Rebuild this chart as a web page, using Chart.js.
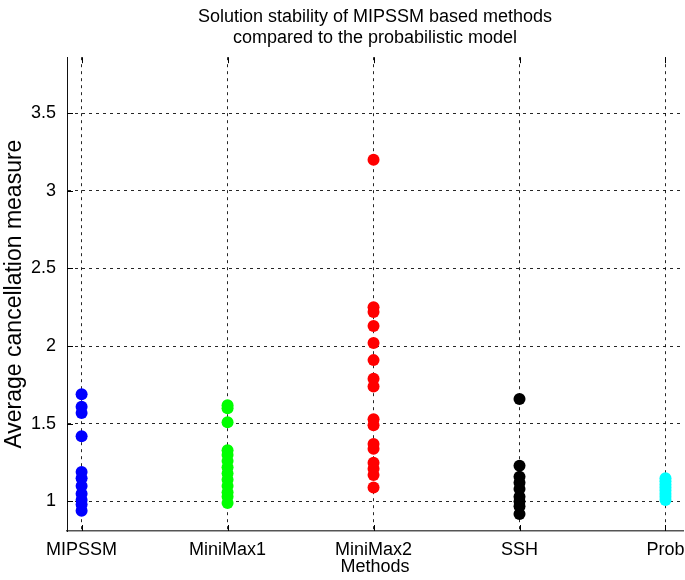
<!DOCTYPE html>
<html>
<head>
<meta charset="utf-8">
<script src="https://cdn.jsdelivr.net/npm/chart.js@4.4.1/dist/chart.umd.min.js"></script>
<style>
  html, body { margin: 0; padding: 0; background: #fff; overflow: hidden; }
  #wrap { width: 685px; height: 580px; overflow: hidden; }
</style>
</head>
<body>
<div id="wrap"><canvas id="myChart" width="710" height="580"></canvas></div>
<script>
/* data */
const methods = ['MIPSSM', 'MiniMax1', 'MiniMax2', 'SSH', 'Prob'];
const colors = ['#0000ff', '#00ff00', '#ff0000', '#000000', '#00ffff'];

const mipssm = [1.69, 1.61, 1.57, 1.42, 1.19, 1.15, 1.10, 1.05, 1.01, 0.98, 0.94];
const minimax1 = [1.62, 1.60, 1.51, 1.33, 1.30, 1.26, 1.22, 1.18, 1.14, 1.10, 1.06, 1.03, 0.99];
const minimax2 = [3.20, 2.25, 2.22, 2.13, 2.02, 1.91, 1.79, 1.74, 1.53, 1.49, 1.37, 1.34, 1.25, 1.21, 1.17, 1.09];
const ssh = [1.66, 1.23, 1.16, 1.12, 1.08, 1.03, 1.00, 0.97, 0.92];
const prob = [1.15, 1.13, 1.11, 1.09, 1.07, 1.05, 1.03, 1.01];

const yTicks = [1, 1.5, 2, 2.5, 3, 3.5];

const series = [mipssm, minimax1, minimax2, ssh, prob];

const FONT = "'Liberation Sans', Arial, Helvetica, sans-serif";

const datasets = series.map(function(vals, i){
  return {
    label: methods[i],
    data: vals.map(function(v){ return {x: i + 1, y: v}; }),
    backgroundColor: colors[i],
    borderWidth: 0,
    pointRadius: 6,
    pointHoverRadius: 6
  };
});

// matlab style inward tick marks
const innerTicks = {
  id: 'innerTicks',
  afterDatasetsDraw(chart){
    const ctx = chart.ctx;
    const a = chart.chartArea;
    const xs = chart.scales.x, ys = chart.scales.y;
    ctx.save();
    ctx.strokeStyle = '#000';
    ctx.lineWidth = 1;
    ctx.setLineDash([]);
    ctx.beginPath();
    yTicks.forEach(function(t){
      const py = Math.round(ys.getPixelForValue(t)) + 0.5;
      ctx.moveTo(a.left, py); ctx.lineTo(a.left + 6, py);
    });
    methods.forEach(function(m, i){
      const px = Math.round(xs.getPixelForValue(i + 1)) + 0.5;
      ctx.moveTo(px, a.bottom); ctx.lineTo(px, a.bottom - 6);
      ctx.moveTo(px, a.top); ctx.lineTo(px, a.top + 6);
    });
    ctx.stroke();
    ctx.restore();
  }
};

const config = {
  type: 'scatter',
  data: { datasets },
  options: {
    responsive: false,
    animation: false,
    events: [],
    layout: { padding: { left: 0, right: 27, top: 0, bottom: 0 } },
    plugins: {
      legend: { display: false },
      tooltip: { enabled: false },
      title: {
        display: true,
        fullSize: false,
        text: ['Solution stability of MIPSSM based methods', 'compared to the probabilistic model'],
        color: '#000',
        font: { family: FONT, size: 18, weight: 'normal', lineHeight: 1.2 },
        padding: { top: 6, bottom: 8 }
      }
    },
    scales: {
      x: {
        type: 'linear',
        min: 0.9,
        max: 5.12,
        afterFit: function(s){ s.height = 49; s.paddingLeft = 0; s.paddingRight = 0; },
        afterBuildTicks: function(s){ s.ticks = methods.map(function(m, i){ return {value: i + 1}; }); },
        ticks: {
          autoSkip: false,
          maxRotation: 0,
          padding: 8,
          color: '#000',
          font: { family: FONT, size: 18 },
          callback: function(v){ return methods[v - 1]; }
        },
        grid: {
          drawTicks: false,
          color: 'rgba(0,0,0,0.85)',
          lineWidth: 1
        },
        border: { display: true, color: '#555', width: 1.5, dash: [3, 4] },
        title: {
          display: true,
          text: 'Methods',
          color: '#000',
          font: { family: FONT, size: 18 },
          padding: { top: 0, bottom: 2 }
        }
      },
      y: {
        min: 0.81,
        max: 3.86,
        afterFit: function(s){ s.width = 67; },
        afterBuildTicks: function(s){ s.ticks = yTicks.map(function(v){ return {value: v}; }); },
        ticks: {
          padding: 11,
          color: '#000',
          font: { family: FONT, size: 18 },
          callback: function(v){ return String(v); }
        },
        grid: {
          drawTicks: false,
          color: 'rgba(0,0,0,0.85)',
          lineWidth: 1
        },
        border: { display: true, color: '#111', width: 1, dash: [3, 4] },
        title: {
          display: true,
          text: 'Average cancellation measure',
          color: '#000',
          font: { family: FONT, size: 23 },
          padding: { top: 1, bottom: 0 }
        }
      }
    }
  },
  plugins: [innerTicks]
};

const myChart = new Chart(document.getElementById('myChart'), config);
</script>
</body>
</html>
